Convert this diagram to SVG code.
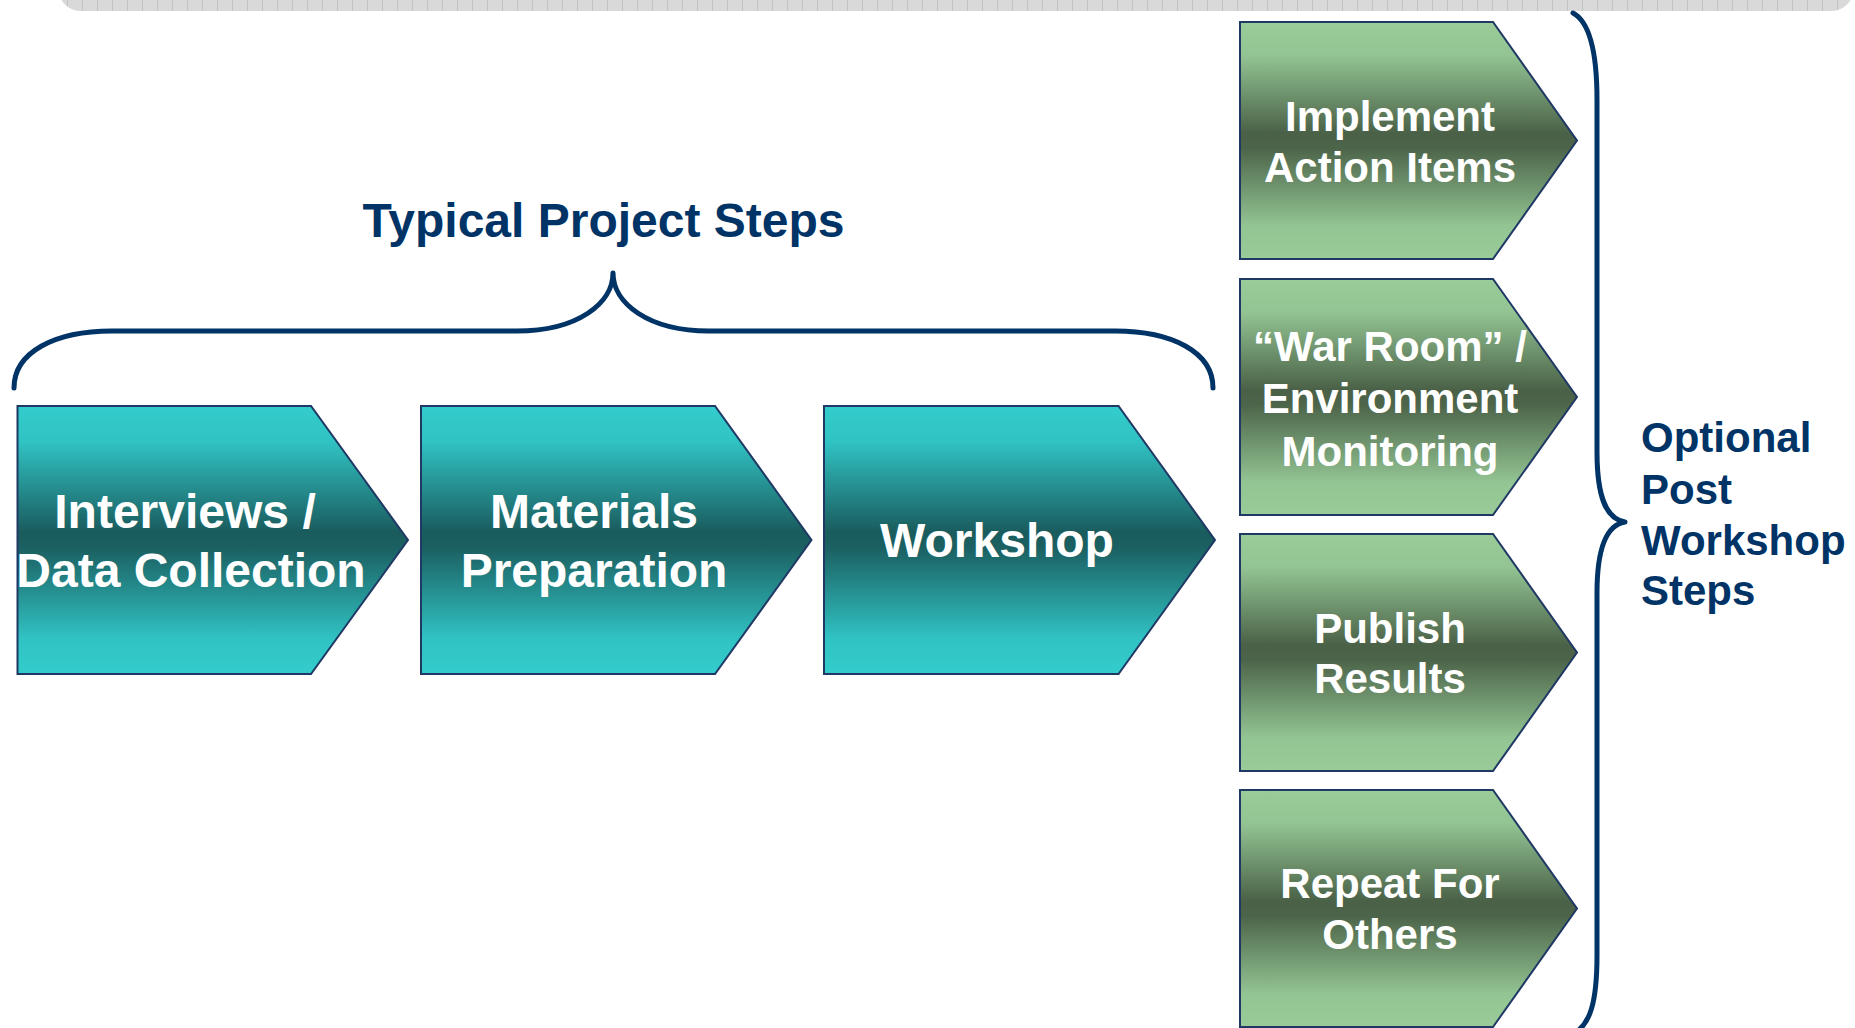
<svg xmlns="http://www.w3.org/2000/svg" width="1855" height="1028" viewBox="0 0 1855 1028">
  <defs>
    <linearGradient id="gBlue" x1="0" y1="0" x2="0" y2="1">
      <stop offset="0" stop-color="#33CCCC"/>
      <stop offset="0.13" stop-color="#31C3C3"/>
      <stop offset="0.47" stop-color="#1A5C5E"/>
      <stop offset="0.53" stop-color="#1B6062"/>
      <stop offset="0.87" stop-color="#31C3C3"/>
      <stop offset="1" stop-color="#33CCCC"/>
    </linearGradient>
    <linearGradient id="gGreen" x1="0" y1="0" x2="0" y2="1">
      <stop offset="0" stop-color="#99CC99"/>
      <stop offset="0.14" stop-color="#93C493"/>
      <stop offset="0.47" stop-color="#4A6147"/>
      <stop offset="0.53" stop-color="#4C6449"/>
      <stop offset="0.86" stop-color="#93C493"/>
      <stop offset="1" stop-color="#99CC99"/>
    </linearGradient>
    <pattern id="grid" x="0" y="0" width="15" height="40" patternUnits="userSpaceOnUse">
      <rect width="15" height="40" fill="#D9D9D9"/>
      <line x1="7.5" y1="0" x2="7.5" y2="40" stroke="#C3C3C3" stroke-width="1"/>
    </pattern>
    <style>
      .blue { fill: url(#gBlue); stroke: #1F3864; stroke-width: 2; }
      .green { fill: url(#gGreen); stroke: #1F3864; stroke-width: 2; }
      .lbl { font-family: "Liberation Sans", Arial, sans-serif; font-weight: bold; fill: #FFFFFF; text-anchor: middle; }
      .big { font-size: 48px; }
      .mid { font-size: 42px; }
      .navy { font-family: "Liberation Sans", Arial, sans-serif; font-weight: bold; fill: #003366; }
      .brace { fill: none; stroke: #003366; stroke-width: 5; stroke-linecap: round; stroke-linejoin: round; }
    </style>
  </defs>

  <rect x="0" y="0" width="1855" height="1028" fill="#FFFFFF"/>

  <g id="topbar">
    <rect x="59" y="-30" width="1794" height="41" rx="22" ry="22" fill="url(#grid)"/>
  </g>

  <g id="title-typical">
    <text class="navy" x="603.5" y="237" font-size="48" text-anchor="middle">Typical Project Steps</text>
  </g>

  <g id="connectors">
    <path class="brace" d="M14,388 C14,352 55,331 112,331 L517,331 C578,331 613,303 613,273 C613,303 648,331 709,331 L1115,331 C1172,331 1213,352 1213,388"/>
    <path class="brace" d="M1573,13 C1590,22 1597,52 1597,100 L1597,452 C1597,497 1606,519 1625,522 C1606,525 1597,548 1597,593 L1597,955 C1597,1003 1590,1025 1573,1034"/>
  </g>

  <g id="node-interviews">
    <path class="blue" d="M17.5,406 L311,406 L408,540 L311,674 L17.5,674 Z"/>
    <text class="lbl big" x="185" y="528">Interviews /</text>
    <text class="lbl big" x="191" y="587">Data Collection</text>
  </g>

  <g id="node-materials">
    <path class="blue" d="M421,406 L715,406 L811.5,540 L715,674 L421,674 Z"/>
    <text class="lbl big" x="594" y="528">Materials</text>
    <text class="lbl big" x="594" y="587">Preparation</text>
  </g>

  <g id="node-workshop">
    <path class="blue" d="M824,406 L1118.5,406 L1215,540 L1118.5,674 L824,674 Z"/>
    <text class="lbl big" x="997" y="557">Workshop</text>
  </g>

  <g id="node-implement">
    <path class="green" d="M1240,22 L1493,22 L1577,140.5 L1493,259 L1240,259 Z"/>
    <text class="lbl mid" x="1390" y="131">Implement</text>
    <text class="lbl mid" x="1390" y="182">Action Items</text>
  </g>

  <g id="node-warroom">
    <path class="green" d="M1240,279 L1493,279 L1577,397 L1493,515 L1240,515 Z"/>
    <text class="lbl mid" x="1390" y="361">“War Room” /</text>
    <text class="lbl mid" x="1390" y="413">Environment</text>
    <text class="lbl mid" x="1390" y="466">Monitoring</text>
  </g>

  <g id="node-publish">
    <path class="green" d="M1240,534 L1493,534 L1577,652.5 L1493,771 L1240,771 Z"/>
    <text class="lbl mid" x="1390" y="643">Publish</text>
    <text class="lbl mid" x="1390" y="693">Results</text>
  </g>

  <g id="node-repeat">
    <path class="green" d="M1240,790 L1493,790 L1577,908.5 L1493,1027 L1240,1027 Z"/>
    <text class="lbl mid" x="1390" y="898">Repeat For</text>
    <text class="lbl mid" x="1390" y="949">Others</text>
  </g>

  <g id="title-optional">
    <text class="navy" font-size="42">
      <tspan x="1641" y="452">Optional</tspan>
      <tspan x="1641" y="504">Post</tspan>
      <tspan x="1641" y="555">Workshop</tspan>
      <tspan x="1641" y="605">Steps</tspan>
    </text>
  </g>
</svg>
